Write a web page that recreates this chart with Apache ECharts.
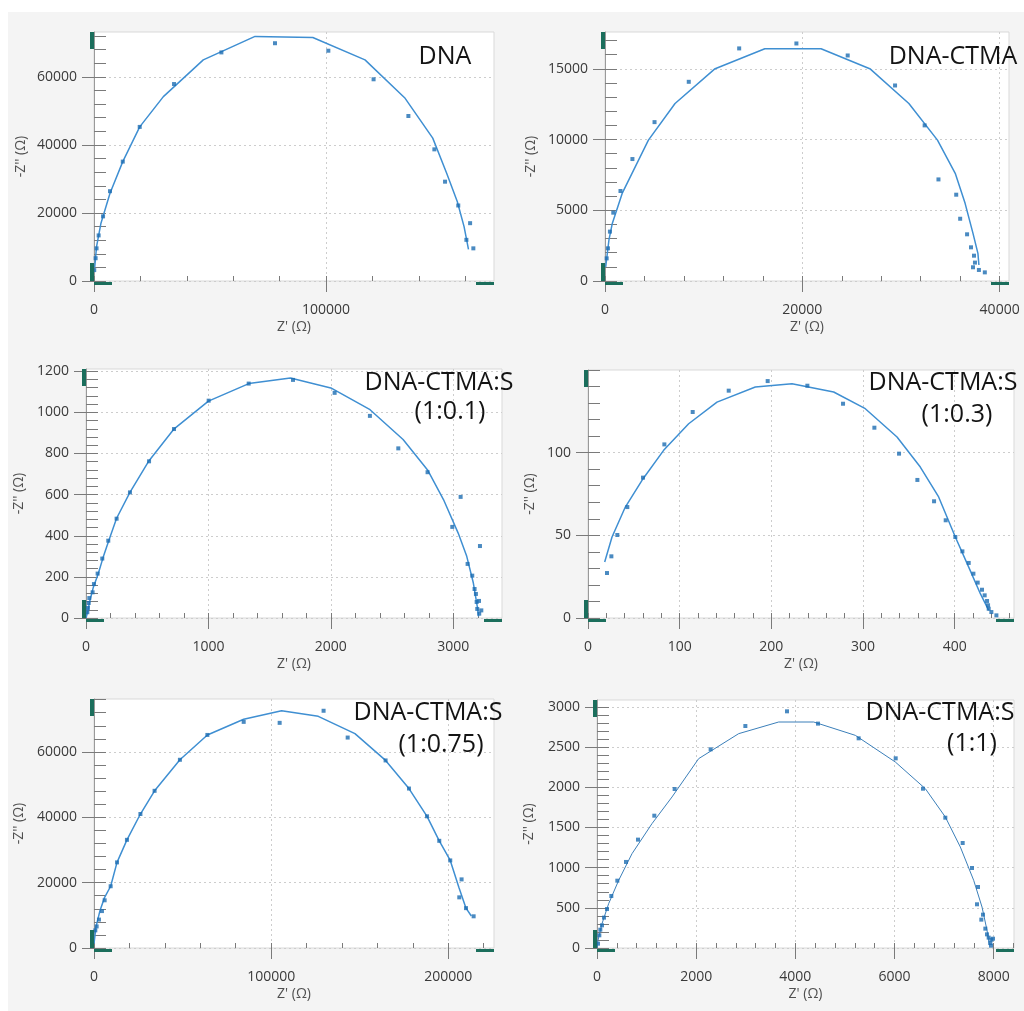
<!DOCTYPE html>
<html>
<head>
<meta charset="utf-8">
<title>Nyquist plots</title>
<script src="https://cdn.jsdelivr.net/npm/echarts@6/dist/echarts.min.js"></script>
<style>
  html, body { margin: 0; padding: 0; background: #ffffff; }
  #chart { width: 1024px; height: 1011px; }
</style>
</head>
<body>
<div id="chart"></div>
<script>
// ---- Measured impedance points [Z', -Z''] in ohm ----
const dnaPoints = [[100,3200],[700,6700],[1100,9600],[2000,13400],[3900,19000],[6900,26400],[12400,35100],[19700,45300],[34500,57900],[54900,67200],[78000,69900],[101000,67700],[120500,59300],[135500,48500],[146700,38700],[151300,29200],[157000,22200],[162100,17000],[160500,12100],[163500,9600]];
const ctmaPoints = [[170,1600],[300,2310],[500,3490],[840,4830],[1570,6360],[2780,8620],[5020,11230],[8490,14080],[13600,16440],[19400,16790],[24600,15940],[29400,13820],[32400,11000],[33800,7180],[35600,6100],[36000,4400],[36700,3300],[37100,2380],[37400,1790],[37500,1300],[37300,970],[37900,780],[38500,610]];
const s01Points = [[11,28],[16,49],[22,73],[27,97],[54,125],[65,165],[95,216],[133,289],[182,376],[250,483],[359,611],[515,762],[719,919],[1002,1057],[1329,1140],[1691,1158],[2031,1095],[2319,983],[2551,825],[2790,709],[3060,589],[2992,443],[3117,263],[3155,206],[3174,141],[3185,117],[3210,83],[3191,78],[3196,44],[3212,21],[3229,37],[3218,350]];
const s03Points = [[20.7,27.2],[25.5,37.3],[32.0,50.2],[42.9,67.1],[60.0,84.9],[83.3,105.0],[114.2,124.6],[153.5,137.5],[196.0,143.3],[239.3,140.5],[278.2,129.6],[312.4,115.1],[339.3,99.4],[359.3,83.5],[377.5,70.6],[390.2,59.1],[400.7,49.0],[408.4,40.3],[415.3,33.3],[420.4,26.8],[425.1,21.4],[429.8,17.1],[432.7,13.7],[435.3,10.3],[436.4,7.7],[437.1,5.6],[440.0,3.6],[445.5,1.6]];
const s075Points = [[750,5400],[1500,6600],[2800,8700],[4500,11300],[6000,14600],[9400,18900],[13000,26200],[18600,33100],[26200,41000],[34200,48100],[48500,57600],[64000,65200],[84500,69200],[104800,68900],[129600,72600],[143200,64400],[164600,57400],[177800,48800],[188000,40300],[194900,32800],[201100,26800],[207500,21000],[206200,15500],[210000,12200],[214300,9700]];
const s1Points = [[20,54],[47,158],[67,228],[101,282],[141,378],[202,485],[289,647],[410,838],[585,1071],[827,1349],[1156,1647],[1566,1979],[2292,2473],[2992,2763],[3832,2946],[4457,2793],[5277,2610],[6024,2361],[6575,1983],[7025,1622],[7375,1307],[7563,996],[7684,759],[7664,544],[7785,415],[7751,353],[7832,241],[7866,170],[7899,129],[7953,104],[7987,116],[7933,62],[7946,29]];

// ---- Equivalent-circuit fit curves [Z', -Z''] in ohm ----
const dnaFit = [[300,4000],[1100,10100],[3000,17000],[6900,25800],[12400,35100],[19700,45300],[29900,54200],[47100,65000],[69400,71900],[94300,71600],[116800,65000],[134100,53700],[146000,42000],[152000,31700],[156600,23300],[159500,16000],[161400,9300]];
const ctmaFit = [[70,1000],[400,2900],[740,4070],[1740,6190],[2900,7840],[4400,9960],[7100,12550],[11100,14980],[16200,16420],[21900,16420],[26900,14980],[30800,12550],[33700,9960],[35500,7610],[36500,5490],[37300,3370],[37800,1950],[37900,1130]];
const s01Fit = [[0,0],[11,24],[30,80],[60,150],[100,215],[140,295],[185,375],[250,485],[360,612],[515,765],[720,920],[1000,1055],[1330,1140],[1670,1167],[2000,1119],[2320,1013],[2590,868],[2790,720],[2920,576],[3040,413],[3110,300],[3164,170],[3196,57],[3207,8]];
const s03Fit = [[18.2,33.9],[26.2,49.0],[40.7,67.1],[58.9,83.3],[82.5,101.4],[109.8,117.5],[140.7,130.6],[182.5,139.7],[222.5,141.7],[268.0,136.7],[302.5,126.6],[337.1,109.5],[362.5,91.3],[382.5,73.2],[400.7,49.0],[415.3,30.8],[428.0,14.7],[437.1,4.6]];
const s075Fit = [[0,1300],[1100,6400],[3400,11500],[6000,15500],[9400,18900],[13000,26200],[18600,33100],[26200,41000],[34200,48100],[48500,57600],[64000,65200],[84500,70000],[105900,72600],[126600,70900],[147300,65600],[164600,57400],[177800,48800],[188000,40300],[194900,32800],[201100,26800],[206000,18500],[210000,12200],[213000,9800]];
const s1Fit = [[0,0],[20,95],[101,303],[235,552],[437,842],[706,1174],[1109,1548],[1513,1880],[2050,2357],[2857,2668],[3664,2813],[4370,2813],[5210,2647],[6017,2315],[6622,1983],[7025,1631],[7328,1257],[7597,842],[7765,510],[7866,220],[7913,33]];

// ---- Labelled tick values per panel ----
const dnaXTicks = [0, 100000];
const dnaYTicks = [0, 20000, 40000, 60000];
const ctmaXTicks = [0, 20000, 40000];
const ctmaYTicks = [0, 5000, 10000, 15000];
const s01XTicks = [0, 1000, 2000, 3000];
const s01YTicks = [0, 200, 400, 600, 800, 1000, 1200];
const s03XTicks = [0, 100, 200, 300, 400];
const s03YTicks = [0, 50, 100];
const s075XTicks = [0, 100000, 200000];
const s075YTicks = [0, 20000, 40000, 60000];
const s1XTicks = [0, 2000, 4000, 6000, 8000];
const s1YTicks = [0, 500, 1000, 1500, 2000, 2500, 3000];

// ---- Panel titles ----
const panelTitles = [
  ['DNA'],
  ['DNA-CTMA'],
  ['DNA-CTMA:S', '(1:0.1)'],
  ['DNA-CTMA:S', '(1:0.3)'],
  ['DNA-CTMA:S', '(1:0.75)'],
  ['DNA-CTMA:S', '(1:1)']
];

// Panel layout: plot boxes, axis ranges, minor tick steps, title placement
const panels = [
  { box: [94, 32, 400, 249], xMax: 172400, yMax: 73200, xT: dnaXTicks, yT: dnaYTicks, xMinor: 20000, yMinor: 4000, yGap: 66,
    pts: dnaPoints, fit: dnaFit, title: [[445, 57]] },
  { box: [605, 32, 404, 249], xMax: 40950, yMax: 17600, xT: ctmaXTicks, yT: ctmaYTicks, xMinor: 4000, yMinor: 1000, yGap: 67,
    pts: ctmaPoints, fit: ctmaFit, title: [[953, 57]] },
  { box: [86, 369, 416, 249], xMax: 3398, yMax: 1211, xT: s01XTicks, yT: s01YTicks, xMinor: 200, yMinor: 40, yGap: 60,
    pts: s01Points, fit: s01Fit, title: [[439, 383], [450, 412]] },
  { box: [588, 370, 426, 248], xMax: 464.7, yMax: 150, xT: s03XTicks, yT: s03YTicks, xMinor: 20, yMinor: 10, yGap: 51,
    pts: s03Points, fit: s03Fit, title: [[943, 383], [957, 415]] },
  { box: [94, 699, 400, 249], xMax: 225800, yMax: 76200, xT: s075XTicks, yT: s075YTicks, xMinor: 20000, yMinor: 4000, yGap: 68,
    pts: s075Points, fit: s075Fit, title: [[428, 713], [441, 745]] },
  { box: [597, 700, 417, 248], xMax: 8410, yMax: 3087, xT: s1XTicks, yT: s1YTicks, xMinor: 400, yMinor: 100, yGap: 61,
    pts: s1Points, fit: s1Fit, title: [[940, 713], [972, 744]], thin: true }
];

const FONT = '"Open Sans", "Noto Sans", sans-serif';
const TICK_COLOR = '#7a7a7a';
const LABEL_COLOR = '#3a3a3a';
const HANDLE_COLOR = '#1b6e5c';

function stepValues(max, step) {
  const out = [];
  for (let v = 0; v <= max + 1e-9; v += step) out.push(+v.toFixed(6));
  return out;
}

const grids = [], xAxes = [], yAxes = [], series = [], graphics = [];

// page backdrop
graphics.push({ type: 'rect', z: -10, silent: true, shape: { x: 8, y: 12, width: 1016, height: 999 }, style: { fill: '#f4f4f4' } });

panels.forEach((p, i) => {
  const [left, top, width, height] = p.box;
  grids.push({ left, top, width, height, show: true, backgroundColor: '#ffffff', borderColor: '#d9d9d9', borderWidth: 1 });

  const xStep = p.xT[1] - p.xT[0];
  const yStep = p.yT[1] - p.yT[0];
  const plain = v => String(v);

  // main x axis: labels, grid lines, long ticks
  xAxes.push({
    type: 'value', gridIndex: i, min: 0, max: p.xMax, interval: xStep,
    axisLine: { show: false },
    axisTick: { show: true, length: 11, lineStyle: { color: TICK_COLOR }, customValues: p.xT },
    axisLabel: { customValues: p.xT, margin: 22, color: LABEL_COLOR, fontSize: 14, fontFamily: FONT, formatter: plain },
    splitLine: { show: true, lineStyle: { color: '#cdcdcd', type: [2, 3] } },
    name: "Z' (\u03A9)", nameLocation: 'middle', nameGap: 39,
    nameTextStyle: { color: '#505050', fontSize: 14, fontFamily: FONT }
  });
  // minor x ticks
  xAxes.push({
    type: 'value', gridIndex: i, min: 0, max: p.xMax, interval: p.xMinor,
    axisLine: { show: false },
    axisTick: { show: true, length: 5, lineStyle: { color: TICK_COLOR }, customValues: stepValues(p.xMax, p.xMinor) },
    axisLabel: { show: false }, splitLine: { show: false }
  });
  // main y axis
  yAxes.push({
    type: 'value', gridIndex: i, min: 0, max: p.yMax, interval: yStep,
    axisLine: { show: true, lineStyle: { color: '#9a9a9a' } },
    axisTick: { show: true, length: 12, lineStyle: { color: TICK_COLOR }, customValues: p.yT },
    axisLabel: { customValues: p.yT, margin: 17, color: LABEL_COLOR, fontSize: 14, fontFamily: FONT, formatter: plain },
    splitLine: { show: true, lineStyle: { color: '#cdcdcd', type: [2, 3] } },
    name: "-Z'' (\u03A9)", nameLocation: 'middle', nameGap: p.yGap,
    nameTextStyle: { color: '#505050', fontSize: 14, fontFamily: FONT }
  });
  // minor y ticks
  yAxes.push({
    type: 'value', gridIndex: i, min: 0, max: p.yMax, interval: p.yMinor,
    axisLine: { show: false },
    axisTick: { show: true, length: 12, lineStyle: { color: TICK_COLOR }, customValues: stepValues(p.yMax, p.yMinor) },
    axisLabel: { show: false }, splitLine: { show: false }
  });

  series.push({
    type: 'line', xAxisIndex: 2 * i, yAxisIndex: 2 * i, data: p.fit,
    showSymbol: false, silent: true, z: 2,
    lineStyle: { color: p.thin ? '#3b7fb9' : '#3f8fd2', width: p.thin ? 1 : 1.5 }
  });
  series.push({
    type: 'scatter', xAxisIndex: 2 * i, yAxisIndex: 2 * i, data: p.pts,
    symbol: 'rect', symbolSize: 4, z: 3,
    itemStyle: { color: '#1d6db2' }
  });

  // axis-end handles
  const right = left + width, bottom = top + height;
  [
    [left - 4, top, 4, 17],
    [left - 4, bottom - 18, 4, 18],
    [left, bottom + 1, 18, 3],
    [right - 18, bottom + 1, 18, 3]
  ].forEach(r => graphics.push({
    type: 'rect', z: 50, silent: true,
    shape: { x: r[0], y: r[1], width: r[2], height: r[3] },
    style: { fill: HANDLE_COLOR }
  }));

  // panel title
  panelTitles[i].forEach((line, k) => {
    graphics.push({
      type: 'text', z: 60, silent: true,
      x: p.title[k][0], y: p.title[k][1],
      style: { text: line, font: '25px ' + FONT, fill: '#141414', align: 'center', verticalAlign: 'middle' }
    });
  });
});

const chart = echarts.init(document.getElementById('chart'), null, { renderer: 'canvas' });
chart.setOption({
  backgroundColor: '#ffffff',
  animation: false,
  grid: grids,
  xAxis: xAxes,
  yAxis: yAxes,
  series: series,
  graphic: graphics
});
</script>
</body>
</html>
